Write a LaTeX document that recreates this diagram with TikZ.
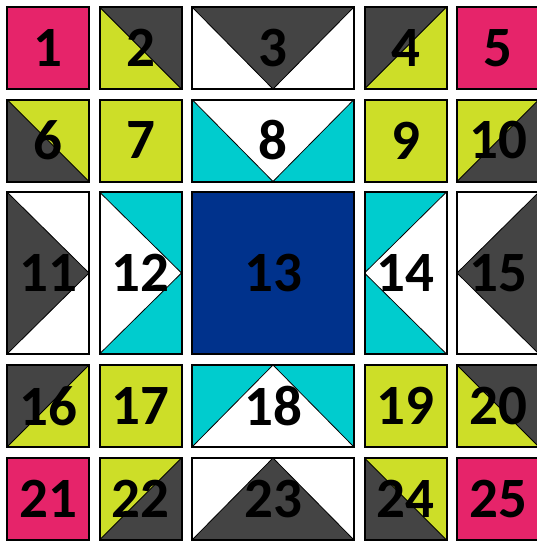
\documentclass[tikz,border=0pt]{standalone}
\usepackage{fontspec}
\setmainfont{Carlito}
\usepackage{xcolor}
\definecolor{qpink}{RGB}{230,36,106}
\definecolor{qlime}{RGB}{205,222,40}
\definecolor{qdark}{RGB}{68,68,68}
\definecolor{qcyan}{RGB}{0,204,206}
\definecolor{qnavy}{RGB}{0,50,140}
\def\qtri{qdark}
\tikzset{
  tile/.style    = {draw=black, line width=2pt, inner sep=0pt, outer sep=0pt,
                    font=\fontsize{57}{60}\selectfont\bfseries, text=black},
  sq/.style      = {tile, minimum width=82pt, minimum height=82pt},
  wide/.style    = {tile, minimum width=162pt, minimum height=82pt},
  tall/.style    = {tile, minimum width=82pt, minimum height=162pt},
  big/.style     = {tile, minimum width=162pt, minimum height=162pt},
  seam/.style    = {draw=black, line width=0.8pt},
  tri/.store in  = \qtri,
  % colour of the upper-right half
  halfdn/.style  = {path picture={
      \fill[\qtri] (path picture bounding box.north west) -- (path picture bounding box.north east)
                -- (path picture bounding box.south east) -- cycle;
      \draw[seam] (path picture bounding box.north west) -- (path picture bounding box.south east);}},
  % colour of the upper-left half
  halfup/.style  = {path picture={
      \fill[\qtri] (path picture bounding box.south west) -- (path picture bounding box.north west)
                -- (path picture bounding box.north east) -- cycle;
      \draw[seam] (path picture bounding box.south west) -- (path picture bounding box.north east);}},
  ptdown/.style  = {path picture={
      \filldraw[fill=\qtri, seam] (path picture bounding box.north west) -- (path picture bounding box.north east)
                -- (path picture bounding box.south) -- cycle;}},
  ptup/.style    = {path picture={
      \filldraw[fill=\qtri, seam] (path picture bounding box.south west) -- (path picture bounding box.south east)
                -- (path picture bounding box.north) -- cycle;}},
  ptright/.style = {path picture={
      \filldraw[fill=\qtri, seam] (path picture bounding box.north west) -- (path picture bounding box.south west)
                -- (path picture bounding box.east) -- cycle;}},
  ptleft/.style  = {path picture={
      \filldraw[fill=\qtri, seam] (path picture bounding box.north east) -- (path picture bounding box.south east)
                -- (path picture bounding box.west) -- cycle;}},
}

\begin{document}
\begin{tikzpicture}[x=1pt, y=-1pt]
  \clip (0,0) rectangle (537,541);
  \fill[white] (0,0) rectangle (537,541);
  % plain tiles
  \foreach \k/\x/\y/\c in {1/48/48/qpink, 5/498/48/qpink, 7/140.5/140.5/qlime,
                           9/405.5/140.5/qlime, 17/140.5/406/qlime, 19/405.5/406/qlime,
                           21/48/499/qpink, 25/498/499/qpink} {
    \node[sq, fill=\c] (t\k) at (\x,\y) {\k};
  }
  \node[big, fill=qnavy] (t13) at (273,273) {13};
  % half-square tiles
  \node[sq, fill=qlime, tri=qdark, halfdn] (t2)  at (140.5,48)  {2};
  \node[sq, fill=qlime, tri=qdark, halfup] (t4)  at (405.5,48)  {4};
  \node[sq, fill=qdark, tri=qlime, halfdn] (t6)  at (48,140.5)  {6};
  \node[sq, fill=qdark, tri=qlime, halfup] (t10) at (498,140.5) {10};
  \node[sq, fill=qlime, tri=qdark, halfup] (t16) at (48,406)    {16};
  \node[sq, fill=qlime, tri=qdark, halfdn] (t20) at (498,406)   {20};
  \node[sq, fill=qdark, tri=qlime, halfup] (t22) at (140.5,499) {22};
  \node[sq, fill=qdark, tri=qlime, halfdn] (t24) at (405.5,499) {24};
  % flying geese
  \node[wide, fill=white, tri=qdark, ptdown]  (t3)  at (273,48)    {3};
  \node[wide, fill=qcyan, tri=white, ptdown]  (t8)  at (273,140.5) {8};
  \node[wide, fill=qcyan, tri=white, ptup]    (t18) at (273,406)   {18};
  \node[wide, fill=white, tri=qdark, ptup]    (t23) at (273,499)   {23};
  \node[tall, fill=white, tri=qdark, ptright] (t11) at (48,273)    {11};
  \node[tall, fill=qcyan, tri=white, ptright] (t12) at (140.5,273) {12};
  \node[tall, fill=qcyan, tri=white, ptleft]  (t14) at (405.5,273) {14};
  \node[tall, fill=white, tri=qdark, ptleft]  (t15) at (498,273)   {15};
\end{tikzpicture}
\end{document}
